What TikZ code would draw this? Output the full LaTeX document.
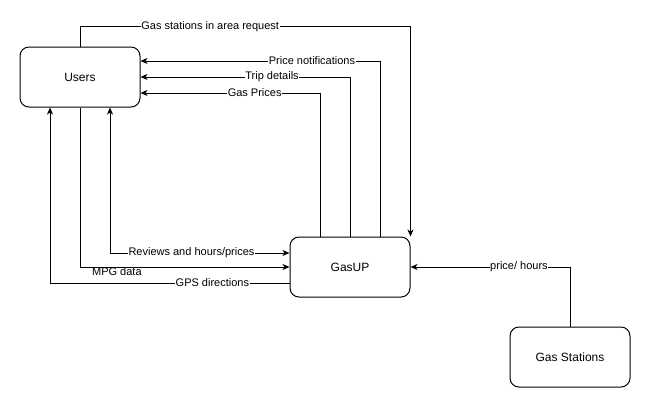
\documentclass[tikz,border=0pt]{standalone}
\usepackage{fontspec}
\setmainfont{Liberation Sans}
\usetikzlibrary{arrows.meta}
\begin{document}
\begin{tikzpicture}[x=1pt,y=-1pt,
  box/.style={draw, rounded corners=9pt, minimum width=120pt, minimum height=60pt, inner sep=0pt, font=\fontsize{12}{14}\selectfont, line width=1pt},
  tip/.tip={Stealth[length=7pt,width=6pt,inset=2pt]},
  flow/.style={draw, line width=1pt, -tip},
  lbl/.style={fill=white, inner sep=0.5pt, font=\fontsize{11}{13}\selectfont}]
\useasboundingbox (0,0) rectangle (652,408);
\node[box] (users) at (80,77) {Users};
\node[box] (gasup) at (350,267) {GasUP};
\node[box] (gs) at (570,357) {Gas Stations};

\draw[flow] (users.north) -- ++(0,-20) -| node[lbl,pos=0.197]{Gas stations in area request} (gasup.north east);
\draw[flow] ([xshift=30pt]gasup.north) |- node[lbl,pos=0.642]{Price notifications} ([yshift=16pt]users.east);
\draw[flow] (gasup.north) |- node[lbl,pos=0.686]{Trip details} (users.east);
\draw[flow] ([xshift=-30pt]gasup.north) |- node[lbl,pos=0.682]{Gas Prices} ([yshift=-16pt]users.east);
\draw[flow, tip-tip] ([xshift=30pt]users.south) |- node[lbl,pos=0.727]{Reviews and hours/prices} ([yshift=14pt]gasup.west);
\draw[flow] (users.south) |- node[lbl,fill=none,pos=0.588,yshift=-5pt]{MPG data} (gasup.west);
\draw[flow] ([yshift=-16pt]gasup.west) -| node[lbl,pos=0.161]{GPS directions} ([xshift=-30pt]users.south);
\draw[flow] (gs.north) |- node[lbl,pos=0.66]{price/ hours} (gasup.east);
\end{tikzpicture}
\end{document}
